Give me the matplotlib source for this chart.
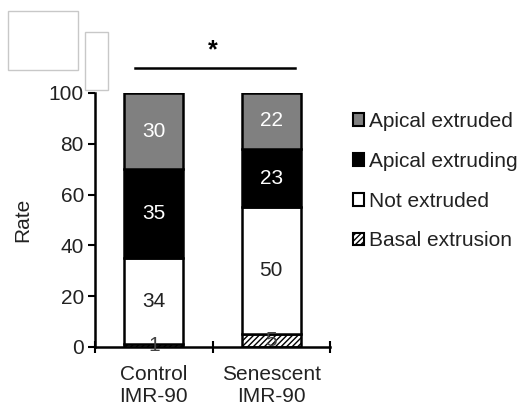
import matplotlib
matplotlib.use("Agg")
import matplotlib.pyplot as plt
from matplotlib.patches import Rectangle, Patch
import numpy as np

plt.rcParams['font.family'] = ['Liberation Sans', 'DejaVu Sans']
plt.rcParams['hatch.linewidth'] = 1.0

categories = ["Control\nIMR-90", "Senescent\nIMR-90"]
basal = [1, 5]
not_extruded = [34, 50]
extruding = [35, 23]
extruded = [30, 22]
series_names = ["Basal extrusion", "Not extruded", "Apical extruding", "Apical extruded"]
yticks = [0, 20, 40, 60, 80, 100]

FS = 15

fig = plt.figure(figsize=(5.25, 4.08), dpi=100)
ax = fig.add_axes([95/525, 1-347/408, 235/525, 254/408])

x = np.arange(len(categories))
w = 0.5
lw = 1.8
series = [basal, not_extruded, extruding, extruded]
colors = ["white", "white", "black", "#808080"]
hatches = ["//////", None, None, None]
txtcol = ["#444444", "#222222", "white", "white"]
bottom = np.zeros(len(categories))
for vals, c, h, tc, name in zip(series, colors, hatches, txtcol, series_names):
    vals = np.array(vals, dtype=float)
    ax.bar(x, vals, w, bottom=bottom, color=c, edgecolor="black",
           linewidth=lw, hatch=h, label=name, zorder=2)
    for xi, v, b in zip(x, vals, bottom):
        ax.text(xi, b + v/2, f"{int(v)}", ha="center", va="center",
                fontsize=FS, color=tc, zorder=3)
    bottom += vals

ax.set_xlim(-0.5, 1.5)
ax.set_ylim(0, 100)
ax.set_yticks(yticks)
ax.set_xticks(x)
ax.set_xticklabels(categories, fontsize=FS, color="#222222")
ax.set_xticks([-0.5, 0.5, 1.5], minor=True)
ax.tick_params(axis='x', which='major', length=0, pad=13)
ax.tick_params(axis='x', which='minor', direction='inout', length=8, width=1.5)
ax.tick_params(axis='y', direction='out', length=5, width=1.5, labelsize=FS,
               labelcolor="#222222", pad=3)
for s in ["top", "right"]:
    ax.spines[s].set_visible(False)
for s in ["left", "bottom"]:
    ax.spines[s].set_linewidth(1.8)
ax.set_ylabel("Rate", fontsize=FS, color="#222222", labelpad=12)

# significance
ax.plot([-0.16, 1.2], [109.8, 109.8], color="black", lw=1.8, clip_on=False)
ax.text(0.5, 117, "*", ha="center", va="center", fontsize=18, fontweight="bold",
        clip_on=False)

# legend
handles = [Patch(facecolor=c, edgecolor="black", hatch=h, linewidth=1.5)
           for c, h in zip(colors, hatches)][::-1]
leg = fig.legend(handles, series_names[::-1], loc="upper left",
                 bbox_to_anchor=(353/525, 1-112/408), frameon=False,
                 fontsize=FS, handlelength=0.55, handleheight=0.55,
                 handletextpad=0.2, labelspacing=1.0, borderaxespad=0,
                 borderpad=0)
for t in leg.get_texts():
    t.set_color("#222222")

# empty boxes
fig.patches.append(Rectangle((8/525, 1-70/408), 70/525, 59/408, transform=fig.transFigure,
                             facecolor="white", edgecolor="#c8c8c8", lw=1))
fig.patches.append(Rectangle((85/525, 1-90/408), 23/525, 58/408, transform=fig.transFigure,
                             facecolor="white", edgecolor="#c8c8c8", lw=1))

fig.savefig("out.png", dpi=100)
